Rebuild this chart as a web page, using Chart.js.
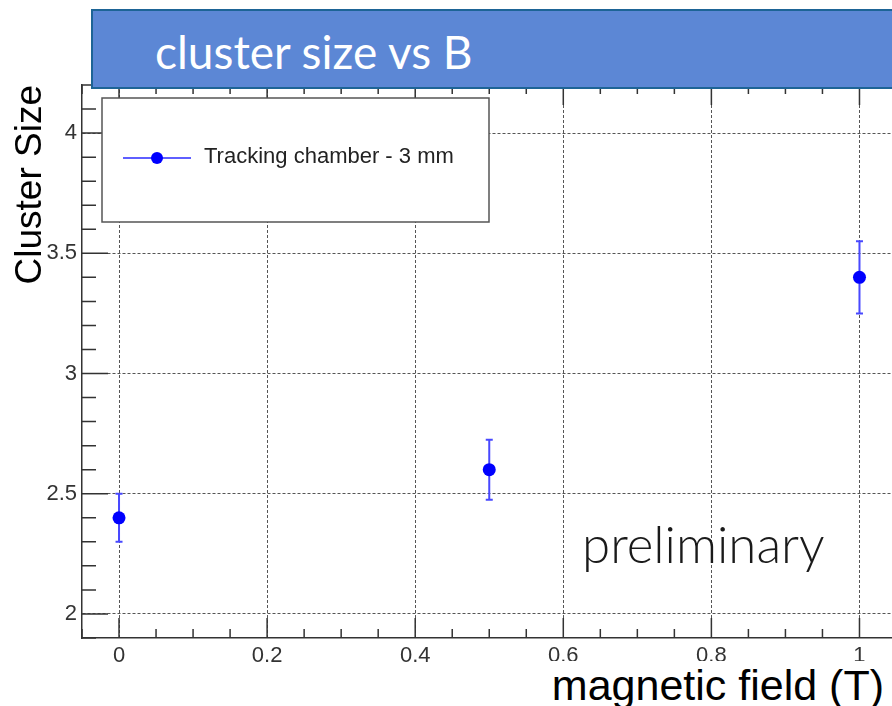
<!DOCTYPE html>
<html>
<head>
<meta charset="utf-8">
<title>cluster size vs B</title>
<script src="https://cdn.jsdelivr.net/npm/chart.js@4/dist/chart.umd.min.js"></script>
<style>
  html, body { margin: 0; padding: 0; background: #fff; overflow: hidden; }
  #wrap { position: relative; width: 892px; height: 706px; overflow: hidden; }
  #plot { position: absolute; left: 0; top: 0; }
  #banner {
    position: absolute; left: 91px; top: 9px; width: 840px; height: 76px;
    background: #5c87d5; border: 2px solid #1d6496;
    color: #fff; font-family: Lato, "Open Sans", sans-serif; font-size: 46px;
    line-height: 82px; padding-left: 62px; box-sizing: content-box;
  }
  #xtitle {
    position: absolute; left: 540px; top: 661px; width: 344px; height: 45px;
    background: #fff; text-align: right;
    font-family: "Liberation Sans", Arial, sans-serif; font-size: 43px; line-height: 48px;
    color: #000;
  }
  #prelim {
    position: absolute; left: 582px; top: 513px;
    font-family: Lato, "Open Sans", sans-serif; font-weight: 300; font-size: 51px;
    color: #1a1a1a;
  }
</style>
</head>
<body>
<div id="wrap">
  <canvas id="plot" width="903" height="706"></canvas>
  <div id="banner">cluster size vs B</div>
  <div id="prelim">preliminary</div>
  <div id="xtitle">magnetic field (T)</div>
</div>
<script>
// ----- data -----
const fieldT = [0, 0.5, 1];
const clusterSize = [2.4, 2.6, 3.4];
const errSize = [0.1, 0.125, 0.15];
const seriesLabel = 'Tracking chamber - 3 mm';

const xMajor = [0, 0.2, 0.4, 0.6, 0.8, 1];
const yMajor = [2, 2.5, 3, 3.5, 4];

const AXIS = '#333';
const GRID = '#555';
const TICKFONT = { family: '"Liberation Sans", Arial, sans-serif', size: 22 };

const isMajor = (v, list) => list.some((m) => Math.abs(m - v) < 1e-6);

// error bars under the markers
const errorBars = {
  id: 'errorBars',
  beforeDatasetsDraw(chart) {
    const ctx = chart.ctx;
    const xs = chart.scales.x;
    const ys = chart.scales.y;
    ctx.save();
    ctx.strokeStyle = '#4848ff';
    ctx.lineWidth = 2;
    for (let i = 0; i < fieldT.length; i++) {
      const x = xs.getPixelForValue(fieldT[i]);
      const top = ys.getPixelForValue(clusterSize[i] + errSize[i]);
      const bot = ys.getPixelForValue(clusterSize[i] - errSize[i]);
      ctx.beginPath();
      ctx.moveTo(x, top);
      ctx.lineTo(x, bot);
      ctx.moveTo(x - 3.5, top);
      ctx.lineTo(x + 3.5, top);
      ctx.moveTo(x - 3.5, bot);
      ctx.lineTo(x + 3.5, bot);
      ctx.stroke();
    }
    ctx.restore();
  },
};

// ROOT style ticks drawn inside the frame, plus the legend box
const rootFrame = {
  id: 'rootFrame',
  afterDraw(chart) {
    const ctx = chart.ctx;
    const area = chart.chartArea;
    const xs = chart.scales.x;
    const ys = chart.scales.y;
    ctx.save();
    ctx.strokeStyle = AXIS;
    ctx.lineWidth = 1.5;
    ctx.beginPath();
    ys.ticks.forEach((t) => {
      const y = ys.getPixelForValue(t.value);
      const len = isMajor(t.value, yMajor) ? 26 : 14;
      ctx.moveTo(area.left, y);
      ctx.lineTo(area.left + len, y);
    });
    xs.ticks.forEach((t) => {
      const x = xs.getPixelForValue(t.value);
      const major = isMajor(t.value, xMajor);
      const len = major ? 20 : 9;
      ctx.moveTo(x, area.bottom);
      ctx.lineTo(x, area.bottom - len);
      ctx.moveTo(x, area.top);
      ctx.lineTo(x, area.top + len);
    });
    ctx.stroke();

    // legend
    const bx = 102, by = 98, bw = 387, bh = 124;
    ctx.fillStyle = '#fff';
    ctx.fillRect(bx, by, bw, bh);
    ctx.strokeStyle = '#555';
    ctx.lineWidth = 1.5;
    ctx.strokeRect(bx, by, bw, bh);
    const ly = 158;
    ctx.strokeStyle = '#2a2aff';
    ctx.lineWidth = 1.5;
    ctx.beginPath();
    ctx.moveTo(123, ly);
    ctx.lineTo(191, ly);
    ctx.stroke();
    ctx.fillStyle = '#0000ff';
    ctx.beginPath();
    ctx.arc(157, ly, 6, 0, Math.PI * 2);
    ctx.fill();
    ctx.fillStyle = '#222';
    ctx.font = '22px "Liberation Sans", Arial, sans-serif';
    ctx.textBaseline = 'middle';
    ctx.fillText(chart.data.datasets[0].label, 204, ly - 1);
    ctx.restore();
  },
};

const ctx = document.getElementById('plot').getContext('2d');

new Chart(ctx, {
  type: 'scatter',
  data: {
    datasets: [
      {
        label: seriesLabel,
        data: fieldT.map((b, i) => ({ x: b, y: clusterSize[i] })),
        backgroundColor: '#0000ff',
        borderColor: '#0000ff',
        pointRadius: 6.5,
        pointHoverRadius: 6.5,
        borderWidth: 0,
        showLine: false,
      },
    ],
  },
  options: {
    responsive: false,
    animation: false,
    events: [],
    layout: { padding: { top: 85, right: 4, left: 0, bottom: 0 } },
    plugins: {
      legend: { display: false },
      tooltip: { enabled: false },
    },
    scales: {
      x: {
        type: 'linear',
        min: -0.05,
        max: 1.05,
        afterFit: (s) => { s.height = 68; },
        ticks: {
          stepSize: 0.05,
          autoSkip: false,
          maxRotation: 0,
          padding: 5,
          color: AXIS,
          font: TICKFONT,
          callback: (v) => (isMajor(v, xMajor) ? String(Math.round(v * 10) / 10) : ''),
        },
        grid: {
          drawTicks: false,
          lineWidth: 1,
          color: (c) => (c.tick && isMajor(c.tick.value, xMajor) ? GRID : 'rgba(0,0,0,0)'),
        },
        border: { display: true, color: AXIS, width: 1.5, dash: [3, 2] },
      },
      y: {
        type: 'linear',
        min: 1.9,
        max: 4.2,
        afterFit: (s) => { s.width = 82; },
        title: {
          display: true,
          text: 'Cluster Size',
          align: 'end',
          color: '#000',
          font: { family: '"Liberation Sans", Arial, sans-serif', size: 37 },
          padding: { top: 9, bottom: 0 },
        },
        ticks: {
          stepSize: 0.1,
          autoSkip: false,
          padding: 5,
          color: AXIS,
          font: TICKFONT,
          callback: (v) => (isMajor(v, yMajor) ? String(Math.round(v * 10) / 10) : ''),
        },
        grid: {
          drawTicks: false,
          lineWidth: 1,
          color: (c) => (c.tick && isMajor(c.tick.value, yMajor) ? GRID : 'rgba(0,0,0,0)'),
        },
        border: { display: true, color: AXIS, width: 1.5, dash: [3, 2] },
      },
    },
  },
  plugins: [errorBars, rootFrame],
});
</script>
</body>
</html>
